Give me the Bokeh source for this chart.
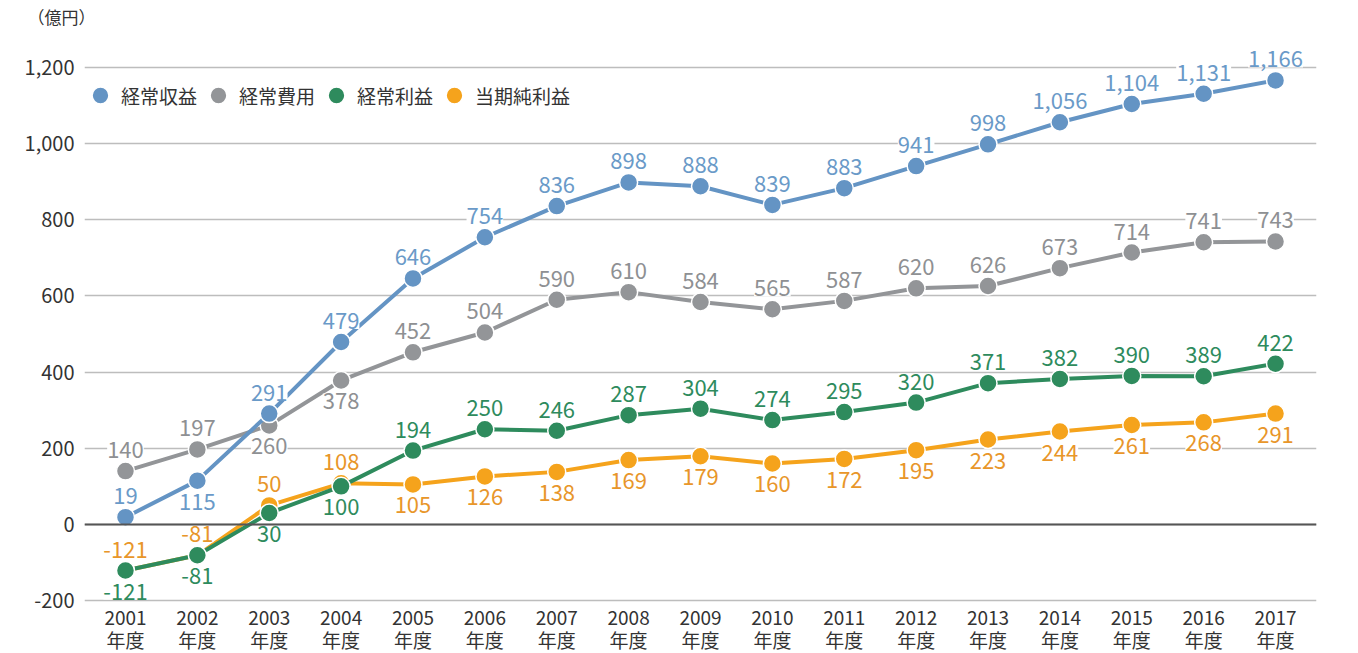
from bokeh.plotting import figure
from bokeh.models import (ColumnDataSource, LabelSet, Title, Legend, LegendItem,
                          NumeralTickFormatter, FixedTicker, Span, Range1d)
from bokeh.core.properties import value
from bokeh.embed import file_html
from bokeh.resources import INLINE

years = ["2001", "2002", "2003", "2004", "2005", "2006", "2007", "2008", "2009",
         "2010", "2011", "2012", "2013", "2014", "2015", "2016", "2017"]
revenue = [19, 115, 291, 479, 646, 754, 836, 898, 888, 839, 883, 941, 998, 1056, 1104, 1131, 1166]
expense = [140, 197, 260, 378, 452, 504, 590, 610, 584, 565, 587, 620, 626, 673, 714, 741, 743]
ordinary = [-121, -81, 30, 100, 194, 250, 246, 287, 304, 274, 295, 320, 371, 382, 390, 389, 422]
net = [-121, -81, 50, 108, 105, 126, 138, 169, 179, 160, 172, 195, 223, 244, 261, 268, 291]
names = ["経常収益", "経常費用", "経常利益", "当期純利益"]
y_ticks = [-200, 0, 200, 400, 600, 800, 1000, 1200]
unit_label = "（億円）"

# label side: 1 = above, -1 = below
rev_side = [1, -1] + [1] * 15
exp_side = [1, 1, -1, -1] + [1] * 13
ord_side = [-1, -1, -1, -1] + [1] * 13
net_side = [1, 1, 1, 1] + [-1] * 13

colors = ["#6494c4", "#939598", "#2e8b5d", "#f5a31c"]
label_colors = ["#6a9ac8", "#8e9093", "#2e8b5d", "#e8962a"]
FONT = "Noto Sans CJK JP"

x = list(range(len(years)))

p = figure(frame_width=1232, frame_height=572, output_backend="svg", toolbar_location=None,
           x_range=Range1d(-0.57, 16.57), y_range=Range1d(-205, 1297),
           min_border_left=84, min_border_right=26, min_border_top=29, min_border_bottom=48)
p.outline_line_color = None
p.background_fill_color = "white"

p.add_layout(Title(text=unit_label, align="left", offset=-57, standoff=3,
                   text_font=FONT, text_font_size="17px", text_font_style="normal",
                   text_color="#333333"), "above")

# axes
p.xaxis.ticker = FixedTicker(ticks=x)
p.xaxis.major_label_overrides = {i: f"{y}\n年度" for i, y in enumerate(years)}
p.yaxis.ticker = FixedTicker(ticks=y_ticks)
p.yaxis.formatter = NumeralTickFormatter(format="0,0")
for ax in (p.xaxis[0], p.yaxis[0]):
    ax.axis_line_color = None
    ax.major_tick_line_color = None
    ax.minor_tick_line_color = None
    ax.major_tick_in = 0
    ax.major_tick_out = 0
    ax.major_label_text_font = FONT
    ax.major_label_text_color = "#333333"
p.xaxis.major_label_text_font_size = "19px"
p.yaxis.major_label_text_font_size = "20px"
p.xaxis.major_label_text_line_height = 0.86
p.xaxis.major_label_standoff = 0
p.yaxis.major_label_standoff = 10
p.xgrid.grid_line_color = None
p.ygrid.ticker = FixedTicker(ticks=y_ticks)
p.ygrid.grid_line_color = "#bdbdbd"
p.ygrid.grid_line_width = 1.5
p.add_layout(Span(location=0, dimension="width", line_color="#555555", line_width=2))

series = [revenue, expense, ordinary, net]
sides = [rev_side, exp_side, ord_side, net_side]
draw_order = [1, 0, 3, 2]
scatters = {}
sources = {}
for i in draw_order:
    src = ColumnDataSource(dict(
        x=x, y=series[i],
        txt=[f"{v:,}" for v in series[i]],
        off=[21 * s for s in sides[i]],
    ))
    sources[i] = src
    p.line("x", "y", source=src, line_color=colors[i], line_width=4)
    scatters[i] = p.scatter("x", "y", source=src, size=18, fill_color=colors[i],
                            line_color="white", line_width=1.5)

for i in draw_order:
    ls = LabelSet(x="x", y="y", text="txt", source=sources[i], y_offset="off",
                  text_align="center", text_baseline="middle",
                  text_font=value(FONT), text_font_size=value("22px"),
                  text_color=value(label_colors[i]),
                  background_fill_color="white")
    p.add_layout(ls)

legend = Legend(items=[LegendItem(label=names[i], renderers=[scatters[i]]) for i in range(4)],
                orientation="horizontal", location=(-5, 486),
                label_text_font=FONT, label_text_font_size="19px", label_text_color="#333333",
                glyph_width=42, glyph_height=42, label_standoff=0, spacing=0,
                padding=0, margin=0, border_line_color=None, background_fill_alpha=0)
p.add_layout(legend)

open("out.html", "w").write(file_html(p, INLINE))
